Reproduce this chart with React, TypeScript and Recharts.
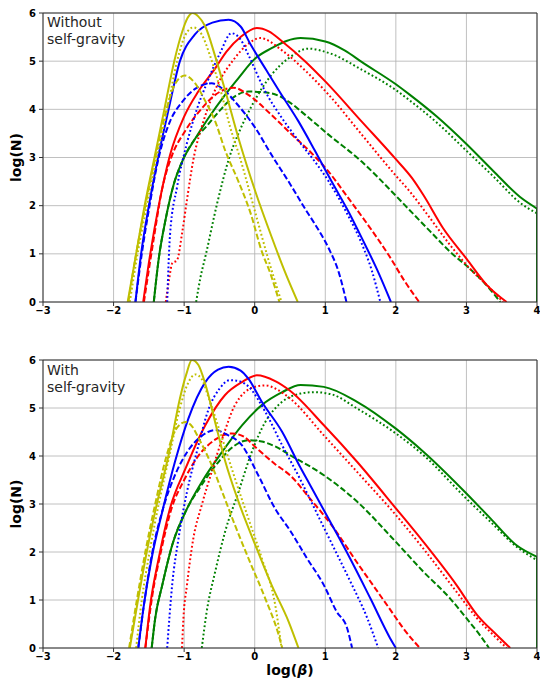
import { LineChart, Line, XAxis, YAxis, CartesianGrid, ReferenceLine } from 'recharts'

// log(beta) / log(N) curves, as [x, y] pairs
const xTicks = [-3, -2, -1, 0, 1, 2, 3, 4]
const yTicks = [0, 1, 2, 3, 4, 5, 6]

// --- top panel: without self-gravity ---
const topYellowSolid = [[-1.80, 0], [-1.68, 1], [-1.56, 2], [-1.42, 3], [-1.28, 4], [-1.14, 5], [-1.03, 5.6], [-0.95, 5.9], [-0.88, 6.0], [-0.80, 5.93], [-0.70, 5.72], [-0.56, 5.1], [-0.42, 4.4], [-0.23, 3.4], [0.01, 2.29], [0.24, 1.35], [0.43, 0.62], [0.61, 0]]
const topYellowDotted = [[-1.77, 0], [-1.66, 1], [-1.53, 2], [-1.39, 3], [-1.24, 4], [-1.10, 5], [-0.98, 5.55], [-0.87, 5.7], [-0.75, 5.55], [-0.63, 5.1], [-0.46, 4.27], [-0.35, 3.64], [-0.21, 3.0], [0.0, 1.9], [0.2, 0.85], [0.38, 0]]
const topYellowDashed = [[-1.79, 0], [-1.68, 1], [-1.55, 2], [-1.41, 3], [-1.25, 4], [-1.12, 4.55], [-0.99, 4.7], [-0.85, 4.55], [-0.70, 4.17], [-0.56, 3.75], [-0.42, 3.15], [-0.23, 2.5], [-0.06, 1.85], [0.10, 1.05], [0.22, 0.6], [0.35, 0]]
const topBlueSolid = [[-1.69, 0], [-1.61, 1], [-1.50, 2], [-1.37, 3], [-1.22, 4], [-1.06, 5], [-0.85, 5.55], [-0.60, 5.8], [-0.37, 5.86], [-0.20, 5.72], [-0.06, 5.35], [0.17, 4.8], [0.36, 4.35], [0.62, 3.75], [0.85, 3.15], [1.09, 2.5], [1.32, 1.9], [1.52, 1.32], [1.75, 0.62], [1.93, 0]]
const topBlueDotted = [[-1.24, 0], [-1.20, 1.4], [-1.10, 2.39], [-0.96, 3.3], [-0.82, 4.0], [-0.68, 4.54], [-0.49, 5.17], [-0.33, 5.58], [-0.20, 5.45], [-0.09, 5.13], [0.15, 4.37], [0.39, 3.81], [0.62, 3.35], [0.85, 2.92], [1.05, 2.5], [1.30, 1.86], [1.52, 1.2], [1.66, 0.65], [1.78, 0]]
const topBlueDashed = [[-1.69, 0], [-1.60, 1], [-1.49, 2], [-1.36, 3], [-1.2, 3.75], [-1.03, 4.15], [-0.85, 4.42], [-0.61, 4.54], [-0.45, 4.42], [-0.28, 4.16], [0.01, 3.61], [0.24, 3.05], [0.48, 2.5], [0.72, 1.92], [0.86, 1.6], [1.05, 1.11], [1.19, 0.62], [1.30, 0]]
const topRedSolid = [[-1.58, 0], [-1.48, 1], [-1.36, 2], [-1.20, 3.05], [-1.0, 3.85], [-0.80, 4.37], [-0.56, 4.85], [-0.40, 5.2], [-0.2, 5.5], [0.03, 5.69], [0.2, 5.62], [0.39, 5.41], [0.72, 4.99], [1.0, 4.58], [1.52, 3.74], [1.99, 2.98], [2.23, 2.57], [2.39, 2.22], [2.67, 1.53], [3.0, 0.9], [3.29, 0.35], [3.57, 0]]
const topRedDotted = [[-1.26, 0], [-1.21, 0.5], [-1.17, 0.8], [-1.10, 0.87], [-1.03, 1.42], [-0.96, 2.12], [-0.87, 2.95], [-0.72, 3.78], [-0.54, 4.47], [-0.30, 5.03], [-0.1, 5.35], [0.08, 5.48], [0.39, 5.22], [0.72, 4.8], [1.05, 4.3], [1.52, 3.47], [1.99, 2.64], [2.2, 2.29], [2.49, 1.73], [2.77, 1.18], [3.05, 0.69], [3.34, 0.28], [3.52, 0]]
const topRedDashed = [[-1.57, 0], [-1.43, 1.32], [-1.32, 2.29], [-1.17, 3.05], [-0.99, 3.54], [-0.75, 4.02], [-0.56, 4.3], [-0.30, 4.45], [-0.09, 4.3], [0.24, 3.88], [0.53, 3.47], [0.80, 3.1], [1.05, 2.7], [1.33, 2.15], [1.61, 1.59], [1.90, 0.97], [2.13, 0.42], [2.33, 0]]
const topGreenSolid = [[-1.43, 0], [-1.36, 0.9], [-1.27, 1.66], [-1.15, 2.43], [-1.03, 2.91], [-0.84, 3.4], [-0.66, 3.81], [-0.42, 4.3], [-0.23, 4.65], [0.01, 5.06], [0.24, 5.27], [0.45, 5.42], [0.65, 5.48], [1.0, 5.41], [1.28, 5.22], [1.52, 4.98], [2.0, 4.52], [2.2, 4.3], [2.58, 3.85], [3.0, 3.28], [3.38, 2.72], [3.76, 2.18], [4.0, 1.94]]
const topGreenEdge = [[4.0, 1.94], [4.0, 0]]
const topGreenDotted = [[-0.83, 0], [-0.77, 0.5], [-0.69, 1], [-0.54, 2], [-0.36, 3], [-0.2, 3.6], [-0.05, 4.05], [0.24, 4.72], [0.48, 5.06], [0.76, 5.26], [1.05, 5.17], [1.52, 4.82], [2.0, 4.4], [2.2, 4.18], [2.6, 3.7], [3.0, 3.14], [3.4, 2.58], [3.76, 2.06], [4.0, 1.84]]
const topGreenDashed = [[-1.43, 0], [-1.36, 0.9], [-1.27, 1.66], [-1.15, 2.43], [-1.03, 2.91], [-0.84, 3.4], [-0.70, 3.62], [-0.51, 3.95], [-0.32, 4.23], [-0.09, 4.37], [0.24, 4.33], [0.48, 4.16], [0.72, 3.88], [1.05, 3.47], [1.52, 2.91], [1.99, 2.22], [2.2, 1.9], [2.49, 1.46], [2.77, 1.04], [3.05, 0.69], [3.24, 0.42], [3.48, 0]]

// --- bottom panel: with self-gravity ---
const botYellowSolid = [[-1.77, 0], [-1.65, 1.03], [-1.53, 2.0], [-1.39, 2.98], [-1.22, 4.02], [-1.06, 5.2], [-0.97, 5.7], [-0.89, 6.0], [-0.80, 5.9], [-0.70, 5.5], [-0.56, 4.7], [-0.42, 3.9], [-0.23, 3.05], [0.01, 2.14], [0.24, 1.31], [0.48, 0.55], [0.62, 0]]
const botYellowDotted = [[-1.68, 0], [-1.6, 1], [-1.49, 2], [-1.36, 3], [-1.21, 4], [-1.06, 5], [-0.95, 5.5], [-0.84, 5.7], [-0.75, 5.6], [-0.65, 5.2], [-0.46, 4.36], [-0.28, 3.53], [-0.09, 2.7], [0.1, 1.87], [0.29, 0.9], [0.38, 0]]
const botYellowDashed = [[-1.78, 0], [-1.67, 1], [-1.55, 2], [-1.41, 3], [-1.25, 4], [-1.12, 4.55], [-0.98, 4.71], [-0.88, 4.6], [-0.79, 4.36], [-0.61, 3.81], [-0.46, 3.25], [-0.28, 2.56], [-0.09, 1.87], [0.15, 1.03], [0.34, 0.27], [0.39, 0]]
const botBlueSolid = [[-1.65, 0], [-1.57, 0.9], [-1.46, 1.87], [-1.31, 2.84], [-1.13, 3.88], [-0.94, 4.78], [-0.70, 5.54], [-0.52, 5.8], [-0.37, 5.86], [-0.2, 5.78], [-0.09, 5.61], [0.1, 5.13], [0.39, 4.5], [0.64, 3.78], [0.79, 3.38], [1.07, 2.63], [1.35, 1.87], [1.64, 1.03], [1.92, 0.2], [2.0, 0]]
const botBlueDotted = [[-1.24, 0], [-1.17, 1.31], [-1.08, 2.28], [-0.96, 3.25], [-0.82, 4.09], [-0.65, 4.99], [-0.5, 5.4], [-0.35, 5.58], [-0.2, 5.55], [-0.09, 5.45], [0.15, 4.92], [0.39, 4.22], [0.65, 3.5], [0.79, 3.08], [1.07, 2.24], [1.35, 1.4], [1.59, 0.64], [1.75, 0]]
const botBlueDashed = [[-1.65, 0], [-1.56, 1], [-1.45, 2], [-1.3, 2.9], [-1.13, 3.6], [-0.95, 4.1], [-0.75, 4.42], [-0.56, 4.54], [-0.4, 4.45], [-0.18, 4.22], [0.05, 3.6], [0.29, 2.9], [0.5, 2.45], [0.74, 1.87], [0.98, 1.31], [1.16, 0.76], [1.31, 0.41], [1.38, 0]]
const botRedSolid = [[-1.55, 0], [-1.48, 0.9], [-1.36, 1.87], [-1.2, 2.91], [-0.98, 3.74], [-0.7, 4.64], [-0.42, 5.27], [-0.18, 5.54], [0.03, 5.68], [0.29, 5.56], [0.5, 5.36], [0.98, 4.64], [1.45, 3.88], [2.0, 2.91], [2.39, 2.21], [2.86, 1.31], [3.15, 0.69], [3.43, 0.27], [3.62, 0]]
const botRedDotted = [[-1.03, 0], [-1.01, 0.62], [-0.96, 1.31], [-0.87, 2.28], [-0.75, 2.98], [-0.61, 3.67], [-0.46, 4.36], [-0.28, 5.06], [0.0, 5.44], [0.15, 5.47], [0.3, 5.4], [0.5, 5.2], [0.98, 4.43], [1.45, 3.67], [2.0, 2.77], [2.39, 2.07], [2.86, 1.17], [3.15, 0.62], [3.43, 0.2], [3.57, 0]]
const botRedDashed = [[-1.55, 0], [-1.45, 1.1], [-1.33, 2.0], [-1.18, 2.9], [-1.0, 3.5], [-0.8, 4.0], [-0.55, 4.35], [-0.32, 4.47], [-0.15, 4.4], [0.0, 4.2], [0.29, 3.83], [0.5, 3.6], [0.79, 3.1], [1.12, 2.5], [1.45, 1.78], [1.68, 1.3], [1.92, 0.8], [2.1, 0.42], [2.34, 0]]
const botGreenSolid = [[-1.46, 0], [-1.41, 0.62], [-1.31, 1.31], [-1.17, 2.14], [-0.98, 2.84], [-0.75, 3.46], [-0.46, 4.09], [-0.18, 4.64], [0.1, 5.06], [0.39, 5.33], [0.65, 5.48], [0.98, 5.44], [1.45, 5.13], [2.0, 4.57], [2.39, 4.09], [3.0, 3.22], [3.34, 2.7], [3.71, 2.14], [4.0, 1.9]]
const botGreenEdge = [[4.0, 1.9], [4.0, 0]]
const botGreenDotted = [[-0.75, 0], [-0.68, 0.76], [-0.56, 1.59], [-0.42, 2.42], [-0.23, 3.25], [-0.04, 4.09], [0.15, 4.71], [0.39, 5.13], [0.65, 5.3], [0.85, 5.33], [1.1, 5.28], [1.45, 4.99], [2.0, 4.47], [2.39, 4.02], [3.0, 3.11], [3.34, 2.63], [3.71, 2.11], [4.0, 1.83]]
const botGreenDashed = [[-1.46, 0], [-1.41, 0.62], [-1.31, 1.31], [-1.17, 2.14], [-0.98, 2.84], [-0.75, 3.4], [-0.5, 3.9], [-0.3, 4.2], [-0.09, 4.33], [0.1, 4.3], [0.29, 4.2], [0.5, 4.02], [0.98, 3.6], [1.45, 3.05], [2.0, 2.21], [2.39, 1.59], [2.77, 1.03], [3.0, 0.62], [3.19, 0.27], [3.32, 0]]

const FONT = '"DejaVu Sans", Verdana, sans-serif'
const YELLOW = '#bfbf00'
const BLUE = '#0000ff'
const RED = '#ff0000'
const GREEN = '#008000'
const DASH: Record<string, string | undefined> = {
  solid: undefined,
  dotted: '1.8 2.4',
  dashed: '6 2.6',
}

type Curve = { id: string; pts: number[][]; color: string; style: string; straight?: boolean }

// drawn back to front: green, red, blue, yellow
const topCurves: Curve[] = [
  { id: 'gs', pts: topGreenSolid, color: GREEN, style: 'solid' },
  { id: 'ge', pts: topGreenEdge, color: GREEN, style: 'solid', straight: true },
  { id: 'gd', pts: topGreenDotted, color: GREEN, style: 'dotted' },
  { id: 'gD', pts: topGreenDashed, color: GREEN, style: 'dashed' },
  { id: 'rs', pts: topRedSolid, color: RED, style: 'solid' },
  { id: 'rd', pts: topRedDotted, color: RED, style: 'dotted' },
  { id: 'rD', pts: topRedDashed, color: RED, style: 'dashed' },
  { id: 'bs', pts: topBlueSolid, color: BLUE, style: 'solid' },
  { id: 'bd', pts: topBlueDotted, color: BLUE, style: 'dotted' },
  { id: 'bD', pts: topBlueDashed, color: BLUE, style: 'dashed' },
  { id: 'ys', pts: topYellowSolid, color: YELLOW, style: 'solid' },
  { id: 'yd', pts: topYellowDotted, color: YELLOW, style: 'dotted' },
  { id: 'yD', pts: topYellowDashed, color: YELLOW, style: 'dashed' },
]

const botCurves: Curve[] = [
  { id: 'gs', pts: botGreenSolid, color: GREEN, style: 'solid' },
  { id: 'ge', pts: botGreenEdge, color: GREEN, style: 'solid', straight: true },
  { id: 'gd', pts: botGreenDotted, color: GREEN, style: 'dotted' },
  { id: 'gD', pts: botGreenDashed, color: GREEN, style: 'dashed' },
  { id: 'rs', pts: botRedSolid, color: RED, style: 'solid' },
  { id: 'rd', pts: botRedDotted, color: RED, style: 'dotted' },
  { id: 'rD', pts: botRedDashed, color: RED, style: 'dashed' },
  { id: 'bs', pts: botBlueSolid, color: BLUE, style: 'solid' },
  { id: 'bd', pts: botBlueDotted, color: BLUE, style: 'dotted' },
  { id: 'bD', pts: botBlueDashed, color: BLUE, style: 'dashed' },
  { id: 'ys', pts: botYellowSolid, color: YELLOW, style: 'solid' },
  { id: 'yd', pts: botYellowDotted, color: YELLOW, style: 'dotted' },
  { id: 'yD', pts: botYellowDashed, color: YELLOW, style: 'dashed' },
]

const fmtTick = (v: number) => (v < 0 ? `\u2212${-v}` : `${v}`)

const tickStyle = { fill: '#000', fontSize: 10, fontWeight: 'bold', fontFamily: FONT }

function YLabel(props: any) {
  const vb = props.viewBox || {}
  const cy = vb.y + vb.height / 2
  return (
    <text
      x={16}
      y={cy}
      transform={`rotate(-90 16 ${cy})`}
      textAnchor="middle"
      dominantBaseline="central"
      fontFamily={FONT}
      fontSize={14}
      fontWeight="bold"
      fill="#000"
    >
      log(N)
    </text>
  )
}

function XLabel(props: any) {
  const vb = props.viewBox || {}
  const cx = vb.x + vb.width / 2
  return (
    <text x={cx} y={vb.y + 27} textAnchor="middle" fontFamily={FONT} fontSize={14} fontWeight="bold" fill="#000">
      log(<tspan fontStyle="italic">β</tspan>)
    </text>
  )
}

function Panel({ curves, height, marginTop, xAxisHeight, withXLabel }: any) {
  return (
    <LineChart width={540} height={height} margin={{ top: marginTop, right: 3, bottom: 0, left: 0 }}>
      <CartesianGrid stroke="#b0b0b0" strokeWidth={0.8} />
      <XAxis
        type="number"
        dataKey="x"
        domain={[-3, 4]}
        ticks={xTicks}
        allowDataOverflow
        tickFormatter={fmtTick}
        tick={tickStyle}
        height={xAxisHeight}
        stroke="#333"
        tickSize={4}
        tickMargin={1}
        label={withXLabel ? { content: <XLabel /> } : undefined}
      />
      <YAxis
        type="number"
        domain={[0, 6]}
        ticks={yTicks}
        allowDataOverflow
        tick={tickStyle}
        width={43}
        stroke="#333"
        tickSize={4}
        tickMargin={3}
        label={{ content: <YLabel /> }}
      />
      {curves.map((c: Curve) => (
        <Line
          key={c.id}
          data={c.pts.map(([x, y]) => ({ x, y }))}
          dataKey="y"
          type={c.straight ? 'linear' : 'monotone'}
          stroke={c.color}
          strokeWidth={2}
          strokeDasharray={DASH[c.style]}
          dot={false}
          activeDot={false}
          isAnimationActive={false}
        />
      ))}
      <ReferenceLine y={6} stroke="#333" strokeWidth={1} />
      <ReferenceLine x={4} stroke="#333" strokeWidth={1} />
    </LineChart>
  )
}

const noteStyle: any = {
  position: 'absolute',
  left: 47,
  fontFamily: FONT,
  fontSize: 14,
  lineHeight: '16.5px',
  color: '#262626',
}

export default function App() {
  return (
    <div style={{ position: 'absolute', left: 0, top: 0, width: 540, height: 688, background: '#fff' }}>
      <Panel curves={topCurves} height={330} marginTop={13} xAxisHeight={28} withXLabel={false} />
      <Panel curves={botCurves} height={358} marginTop={30} xAxisHeight={40} withXLabel />
      <div style={{ ...noteStyle, top: 14 }}>
        Without
        <br />
        self-gravity
      </div>
      <div style={{ ...noteStyle, top: 362 }}>
        With
        <br />
        self-gravity
      </div>
    </div>
  )
}
